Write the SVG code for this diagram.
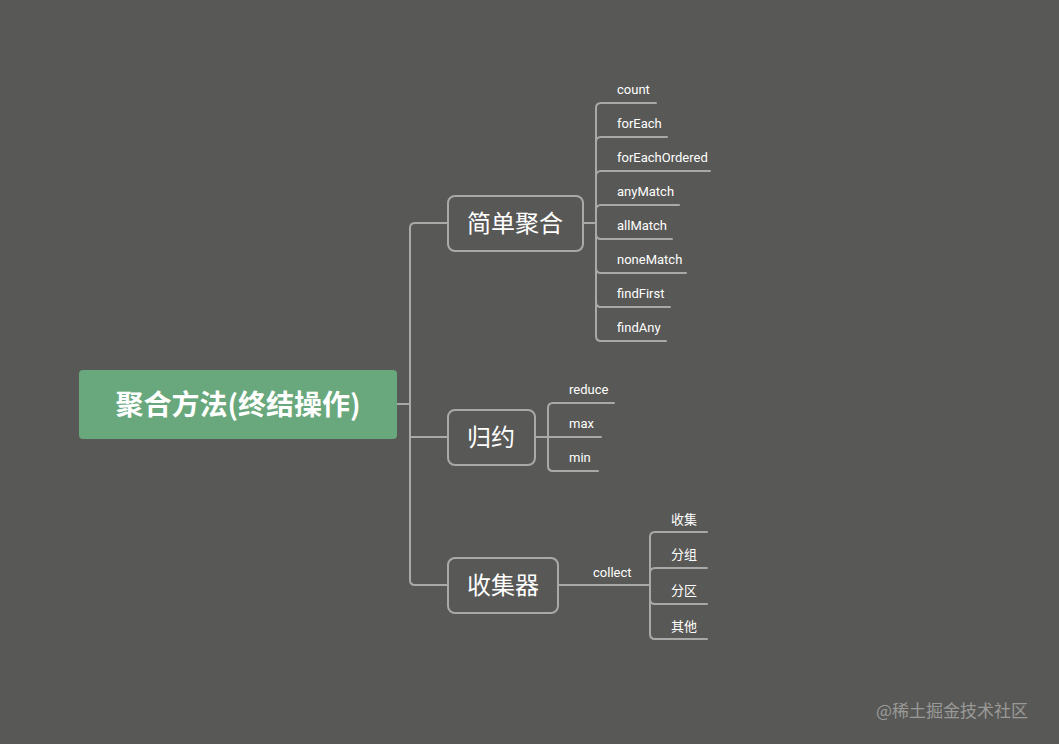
<svg xmlns="http://www.w3.org/2000/svg" width="1059" height="744" viewBox="0 0 1059 744">
<style>
.c{fill:none;stroke:#a9a9a7;stroke-width:2;stroke-linecap:round}
.n{fill:#585856;stroke:#a9a9a7;stroke-width:2}
.t{font-family:"Noto Sans CJK SC","Noto Sans",sans-serif;fill:#fff}
.m{font-size:24px;text-anchor:middle}
.l{font-family:Roboto,"Noto Sans CJK SC",sans-serif;font-size:13px;fill:#fff}
</style>
<rect width="1059" height="744" fill="#585856"/>
<g id="connectors">
<path class="c" d="M397,404 H410 M410,228 Q410,223 415,223 H448 M410,228 V580 Q410,585 415,585 H448 M410,437 H448"/>
<path class="c" d="M583,223 H596 M596,223 V108 Q596,103 601,103 H656 M596,223 V142 Q596,137 601,137 H667 M596,223 V176 Q596,171 601,171 H710 M596,223 V210 Q596,205 601,205 H679 M596,223 V234 Q596,239 601,239 H672 M596,223 V268 Q596,273 601,273 H686 M596,223 V302 Q596,307 601,307 H670 M596,223 V336 Q596,341 601,341 H666"/>
<path class="c" d="M535,437 H548 M548,437 V408 Q548,403 553,403 H614 M548,437 H601 M548,437 V466 Q548,471 553,471 H598"/>
<path class="c" d="M558,585 H650 M650,585 V537 Q650,532 655,532 H707 M650,585 V573 Q650,568 655,568 H707 M650,585 V599 Q650,604 655,604 H707 M650,585 V634 Q650,639 655,639 H707"/>
<text class="l" x="593" y="577">collect</text>
</g>
<g id="root"><rect x="79" y="370" width="318" height="69" rx="4" fill="#68a87c"/>
<text class="t" x="238" y="415" font-size="28" font-weight="bold" text-anchor="middle">聚合方法(终结操作)</text></g>
<g id="n1"><rect class="n" x="448" y="196" width="135" height="55" rx="7"/><text class="t m" x="515" y="232">简单聚合</text></g>
<g id="n2"><rect class="n" x="448" y="410" width="87" height="55" rx="7"/><text class="t m" x="491" y="446">归约</text></g>
<g id="n3"><rect class="n" x="448" y="558" width="110" height="55" rx="7"/><text class="t m" x="503" y="594">收集器</text></g>
<g id="leaves">
<text class="l" x="617" y="94">count</text>
<text class="l" x="617" y="128">forEach</text>
<text class="l" x="617" y="162">forEachOrdered</text>
<text class="l" x="617" y="196">anyMatch</text>
<text class="l" x="617" y="230">allMatch</text>
<text class="l" x="617" y="264">noneMatch</text>
<text class="l" x="617" y="298">findFirst</text>
<text class="l" x="617" y="332">findAny</text>
<text class="l" x="569" y="394">reduce</text>
<text class="l" x="569" y="428">max</text>
<text class="l" x="569" y="462">min</text>
<text class="l" x="671" y="524">收集</text>
<text class="l" x="671" y="559">分组</text>
<text class="l" x="671" y="595">分区</text>
<text class="l" x="671" y="631">其他</text>
</g>
<text x="876" y="717" font-family="Noto Sans CJK SC,sans-serif" font-size="17" fill="#9a9a98">@稀土掘金技术社区</text>
</svg>
